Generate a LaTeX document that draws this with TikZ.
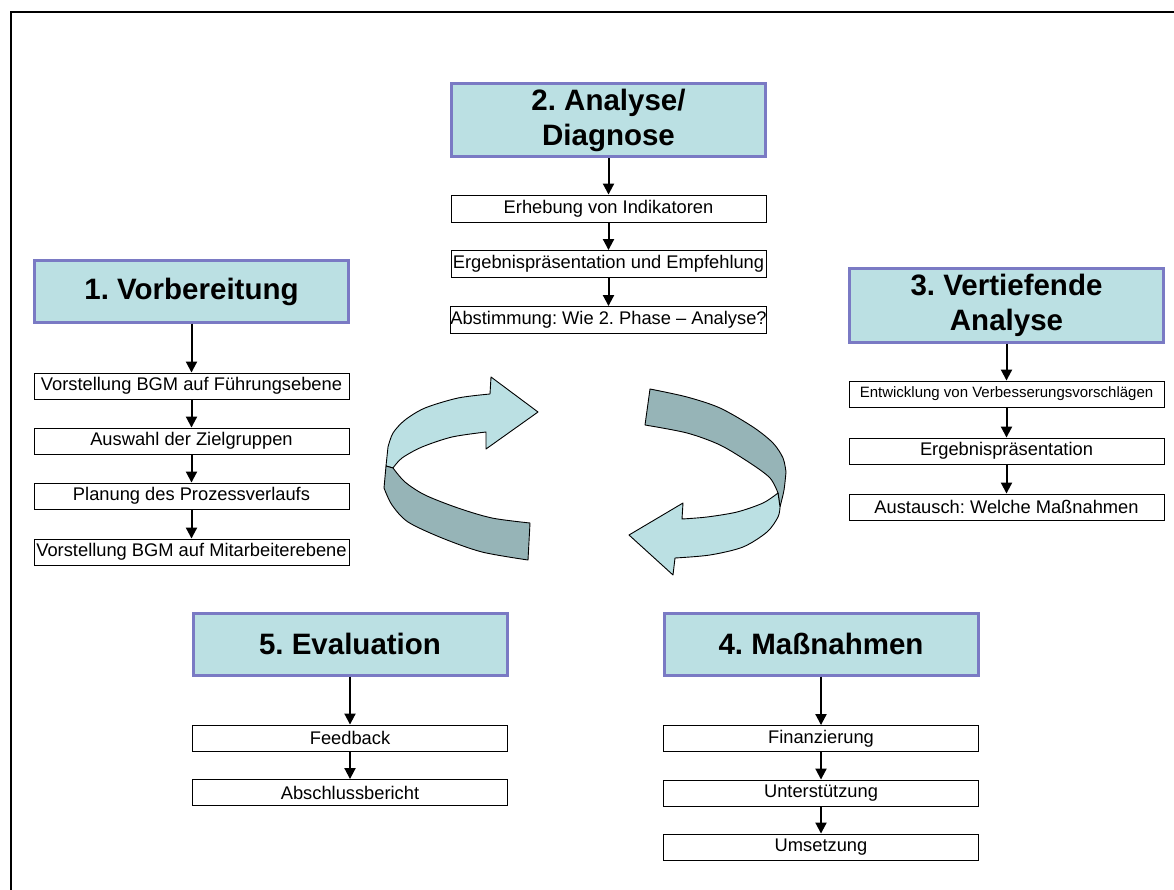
\documentclass[tikz,border=0pt]{standalone}
\usepackage{fontspec}
\setmainfont{Liberation Sans}
\usepackage{tikz}
\usetikzlibrary{arrows.meta}
\definecolor{phasefill}{RGB}{187,224,227}
\definecolor{phaseline}{RGB}{122,122,196}
\definecolor{ribbondark}{RGB}{150,180,183}
\frenchspacing

\begin{document}
\begin{tikzpicture}
  [x=1pt,y=-1pt,
   phase/.style={draw=phaseline,line width=3pt,fill=phasefill,minimum width=314,
     inner sep=0,align=center,font=\fontsize{29.5}{35}\selectfont\bfseries},
   task/.style={draw,line width=.9pt,fill=white,minimum width=315,minimum height=26,
     inner sep=0,font=\fontsize{18.3}{20}\selectfont},
   flow/.style={line width=2pt,-{Triangle[length=11pt,width=11pt]}},
   ribbon/.style={draw=black,line width=.9pt,line join=round}]
  \useasboundingbox (0,0) rectangle (1174,890);
  \draw[line width=2pt] (11,890) -- (11,12) -- (1174,12);

  % phase 1
  \node[phase,minimum height=61] (p1) at (191.5,291.5) {1. Vorbereitung};
  \node[task] (p1a) at (191.5,386) {Vorstellung BGM auf Führungsebene};
  \node[task] (p1b) at (191.5,441) {Auswahl der Zielgruppen};
  \node[task] (p1c) at (191.5,496) {Planung des Prozessverlaufs};
  \node[task] (p1d) at (191.5,552) {Vorstellung BGM auf Mitarbeiterebene};
  % phase 2
  \node[phase,minimum height=73] (p2) at (608.5,120.5) {2. Analyse/\\Diagnose};
  \node[task,minimum height=27] (p2a) at (608.5,208.5) {Erhebung von Indikatoren};
  \node[task,minimum height=27] (p2b) at (608.5,264) {Ergebnispräsentation und Empfehlung};
  \node[task,minimum height=27] (p2c) at (608.5,320) {Abstimmung: Wie 2. Phase – Analyse?};
  % phase 3
  \node[phase,minimum height=73] (p3) at (1006.5,305.5) {3. Vertiefende\\Analyse};
  \node[task,font=\fontsize{15}{17}\selectfont] (p3a) at (1006.5,394) {Entwicklung von Verbesserungsvorschlägen};
  \node[task] (p3b) at (1006.5,451) {Ergebnispräsentation};
  \node[task] (p3c) at (1006.5,507) {Austausch: Welche Maßnahmen};
  % phase 4
  \node[phase,minimum height=62] (p4) at (821,644) {4. Maßnahmen};
  \node[task] (p4a) at (821,738.5) {Finanzierung};
  \node[task] (p4b) at (821,793) {Unterstützung};
  \node[task] (p4c) at (821,847) {Umsetzung};
  % phase 5
  \node[phase,minimum height=62] (p5) at (350,644) {5. Evaluation};
  \node[task] (p5a) at (350,738) {Feedback};
  \node[task] (p5b) at (350,792.5) {Abschlussbericht};

  \foreach \from/\to in {p1/p1a,p1a/p1b,p1b/p1c,p1c/p1d,p2/p2a,p2a/p2b,p2b/p2c,
      p3/p3a,p3a/p3b,p3b/p3c,p4/p4a,p4a/p4b,p4b/p4c,p5/p5a,p5a/p5b}
    \draw[flow] (\from) -- (\to);

  % cycle arrows
  \filldraw[ribbon,fill=phasefill] (386,466) -- plot[smooth] coordinates {(388,447) (393,433) (405,420) (425,408) (458,398) (490,394)}
    -- (491,377) -- (538,412) -- (486,449) -- (486,432)
    -- plot[smooth] coordinates {(486,432) (452,437) (422,447) (402,458) (393,468)} -- cycle;
  \filldraw[ribbon,fill=ribbondark] (393,468) -- plot[smooth] coordinates {(393,468) (405,482) (425,495) (458,508) (492,518) (530,523)}
    -- (528,560) -- plot[smooth] coordinates {(528,560) (482,552) (442,538) (408,522) (392,505) (384,488)}
    -- (386,466) -- cycle;
  \filldraw[ribbon,fill=ribbondark] (650,389) -- plot[smooth] coordinates {(650,389) (687,397) (720,408) (753,427) (773,443) (783,458) (786,472)}
    -- plot[smooth] coordinates {(786,472) (784,490) (780,507)} -- (778,493)
    -- plot[smooth] coordinates {(778,493) (770,478) (750,463) (720,445) (687,433) (645,425)} -- cycle;
  \filldraw[ribbon,fill=phasefill] (778,493) -- plot[smooth] coordinates {(778,493) (763,503) (737,512) (707,517) (682,519)}
    -- (683,503) -- (629,535) -- (673,575) -- (675,558)
    -- plot[smooth] coordinates {(675,558) (710,555) (743,547) (767,532) (778,517) (780,507)} -- cycle;
\end{tikzpicture}
\end{document}
